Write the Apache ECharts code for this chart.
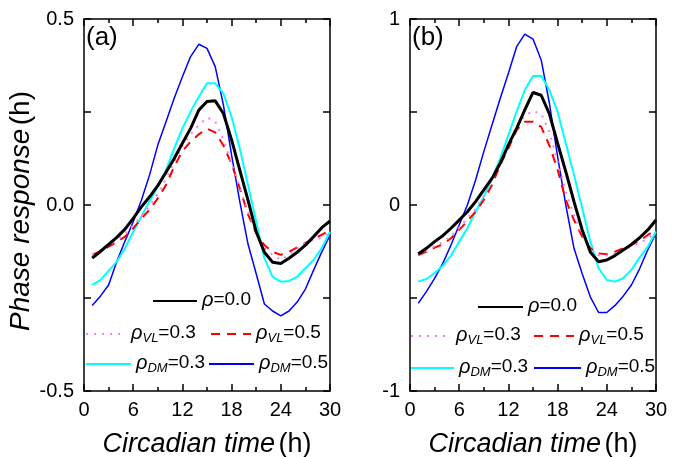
<!DOCTYPE html>
<html>
<head>
<meta charset="utf-8">
<script src="https://cdn.jsdelivr.net/npm/echarts@6/dist/echarts.min.js"></script>
<style>
  html, body { margin: 0; padding: 0; background: #fff; }
  #chart { width: 688px; height: 457px; }
</style>
</head>
<body>
<div id="chart"></div>
<script>
// circadian time (h), one value per hour
const hours = [1, 2, 3, 4, 5, 6, 7, 8, 9, 10, 11, 12, 13, 14, 15, 16, 17, 18, 19, 20, 21, 22, 23, 24, 25, 26, 27, 28, 29, 30]

// panel (a)
const a_p00 = [-0.143, -0.125, -0.106, -0.087, -0.065, -0.036, -0.005, 0.022, 0.052, 0.088, 0.125, 0.166, 0.206, 0.255, 0.278, 0.280, 0.246, 0.175, 0.094, 0.013, -0.072, -0.127, -0.154, -0.157, -0.143, -0.127, -0.108, -0.085, -0.061, -0.043]
const a_vl03 = [-0.134, -0.122, -0.108, -0.095, -0.078, -0.055, -0.030, -0.003, 0.030, 0.070, 0.115, 0.160, 0.190, 0.215, 0.235, 0.225, 0.175, 0.112, 0.045, -0.018, -0.076, -0.116, -0.134, -0.148, -0.134, -0.116, -0.102, -0.094, -0.088, -0.072]
const a_vl05 = [-0.134, -0.124, -0.112, -0.100, -0.085, -0.063, -0.036, -0.013, 0.018, 0.054, 0.103, 0.145, 0.170, 0.190, 0.205, 0.195, 0.160, 0.110, 0.045, -0.025, -0.076, -0.108, -0.126, -0.134, -0.126, -0.114, -0.102, -0.091, -0.080, -0.067]
const a_dm03 = [-0.215, -0.202, -0.177, -0.152, -0.116, -0.072, -0.031, 0.011, 0.049, 0.094, 0.152, 0.206, 0.251, 0.291, 0.327, 0.327, 0.300, 0.237, 0.152, 0.054, -0.045, -0.143, -0.193, -0.206, -0.204, -0.193, -0.170, -0.148, -0.116, -0.072]
const a_dm05 = [-0.270, -0.245, -0.215, -0.152, -0.097, -0.045, 0.013, 0.081, 0.161, 0.224, 0.287, 0.345, 0.399, 0.432, 0.421, 0.372, 0.269, 0.134, 0.009, -0.105, -0.185, -0.266, -0.285, -0.298, -0.285, -0.261, -0.226, -0.175, -0.126, -0.081]

// panel (b)
const b_p00 = [-0.263, -0.233, -0.197, -0.165, -0.125, -0.081, -0.036, 0.018, 0.081, 0.143, 0.224, 0.323, 0.412, 0.511, 0.605, 0.590, 0.490, 0.332, 0.179, 0.018, -0.134, -0.254, -0.305, -0.296, -0.272, -0.242, -0.212, -0.176, -0.134, -0.081]
const b_vl03 = [-0.265, -0.245, -0.222, -0.200, -0.168, -0.122, -0.072, -0.020, 0.050, 0.140, 0.240, 0.330, 0.420, 0.480, 0.505, 0.490, 0.394, 0.233, 0.072, -0.054, -0.161, -0.242, -0.269, -0.272, -0.260, -0.240, -0.225, -0.205, -0.180, -0.147]
const b_vl05 = [-0.269, -0.251, -0.229, -0.211, -0.179, -0.134, -0.086, -0.036, 0.027, 0.108, 0.215, 0.305, 0.403, 0.448, 0.448, 0.420, 0.320, 0.190, 0.027, -0.081, -0.170, -0.233, -0.260, -0.265, -0.251, -0.233, -0.215, -0.192, -0.161, -0.134]
const b_dm03 = [-0.412, -0.398, -0.367, -0.326, -0.272, -0.197, -0.125, -0.036, 0.045, 0.143, 0.251, 0.376, 0.502, 0.618, 0.694, 0.695, 0.618, 0.502, 0.332, 0.161, -0.018, -0.197, -0.340, -0.403, -0.412, -0.394, -0.349, -0.283, -0.224, -0.143]
const b_dm05 = [-0.529, -0.466, -0.394, -0.314, -0.215, -0.108, 0.000, 0.134, 0.287, 0.430, 0.573, 0.708, 0.851, 0.919, 0.892, 0.780, 0.547, 0.260, 0.000, -0.233, -0.370, -0.495, -0.578, -0.578, -0.540, -0.490, -0.430, -0.343, -0.241, -0.152]

const names = ['ρ=0.0', 'ρVL=0.3', 'ρVL=0.5', 'ρDM=0.3', 'ρDM=0.5']
const labels = {
  'ρ=0.0': '{i|ρ}{n|=0.0}',
  'ρVL=0.3': '{i|ρ}{s|VL}{n|=0.3}',
  'ρVL=0.5': '{i|ρ}{s|VL}{n|=0.5}',
  'ρDM=0.3': '{i|ρ}{s|DM}{n|=0.3}',
  'ρDM=0.5': '{i|ρ}{s|DM}{n|=0.5}'
}
const styles = [
  { color: '#000000', width: 3, type: 'solid' },
  { color: '#f080f0', width: 2, type: [2, 6] },
  { color: '#ff0000', width: 2, type: [9, 7] },
  { color: '#00ffff', width: 2, type: 'solid' },
  { color: '#0000ff', width: 1.5, type: 'solid' }
]

const FONT = 'Arial, "Liberation Sans", sans-serif'
const chart = echarts.init(document.getElementById('chart'))

function pairs(vals) {
  return hours.map((h, i) => [h, vals[i]])
}

const nameRich = {
  i: { fontSize: 27, fontStyle: 'italic', fontFamily: FONT, color: '#000' },
  n: { fontSize: 27, fontFamily: FONT, color: '#000' }
}

function xAxes(gi) {
  const base = {
    type: 'value', gridIndex: gi, min: 0, max: 30, interval: 6,
    axisLine: { onZero: false, lineStyle: { color: '#000', width: 1.5 } },
    axisTick: { inside: true, length: 7, lineStyle: { color: '#000', width: 1.5 } },
    minorTick: { show: true, splitNumber: 2, length: 4, lineStyle: { color: '#000', width: 1.5 } },
    splitLine: { show: false }
  }
  return [
    Object.assign({}, base, {
      position: 'bottom',
      axisLabel: { fontSize: 20, color: '#000', margin: 9, fontFamily: FONT },
      name: '{i|Circadian time} {n|(h)}',
      nameLocation: 'middle',
      nameGap: 40,
      nameTextStyle: { rich: nameRich }
    }),
    Object.assign({}, base, { position: 'top', axisLabel: { show: false } })
  ]
}

function yAxes(gi, lim, fmt, withName) {
  const base = {
    type: 'value', gridIndex: gi, min: -lim, max: lim, interval: lim,
    axisLine: { onZero: false, lineStyle: { color: '#000', width: 1.5 } },
    axisTick: { inside: true, length: 7, lineStyle: { color: '#000', width: 1.5 } },
    minorTick: { show: true, splitNumber: 2, length: 7, lineStyle: { color: '#000', width: 1.5 } },
    splitLine: { show: false }
  }
  const left = Object.assign({}, base, {
    position: 'left',
    axisLabel: { fontSize: 20, color: '#000', margin: 10, fontFamily: FONT, formatter: fmt }
  })
  if (withName) {
    Object.assign(left, {
      name: '{i|Phase response} {n|(h)}',
      nameLocation: 'middle',
      nameGap: 47,
      nameTextStyle: {
        rich: {
          i: { fontSize: 28, fontStyle: 'italic', fontFamily: FONT, color: '#000' },
          n: { fontSize: 28, fontFamily: FONT, color: '#000' }
        },
        padding: [0, 12, 0, 0]
      }
    })
  }
  return [left, Object.assign({}, base, { position: 'right', axisLabel: { show: false } })]
}

function makeSeries(gi, sets) {
  return sets.map((vals, k) => ({
    name: names[k],
    type: 'line',
    xAxisIndex: gi * 2,
    yAxisIndex: gi * 2,
    data: pairs(vals),
    symbol: 'none',
    z: 10 - k,
    lineStyle: styles[k],
    itemStyle: { color: styles[k].color }
  }))
}

const legendRich = {
  i: { fontSize: 20, fontStyle: 'italic', fontFamily: FONT, color: '#000', lineHeight: 22, verticalAlign: 'top' },
  n: { fontSize: 19, fontFamily: FONT, color: '#000', lineHeight: 22, verticalAlign: 'top' },
  s: { fontSize: 13, fontStyle: 'italic', fontFamily: FONT, color: '#000', lineHeight: 14, padding: [12, 0, 0, 0], verticalAlign: 'bottom' }
}

// [name index, icon left, icon width, row centre]
const legendA = [[0, 152, 44, 300], [1, 85, 40, 333], [2, 210, 40, 333], [3, 85, 45, 363], [4, 208, 45, 363]]
const legendB = [[0, 477, 45, 306], [1, 410, 40, 335], [2, 533, 40, 335], [3, 410, 43, 367], [4, 533, 47, 367]]

function makeLegends(list) {
  return list.map(([k, x, w, cy]) => ({
    data: [names[k]],
    left: x,
    top: cy - (k === 0 ? 10 : 13),
    padding: 0,
    itemWidth: w,
    itemHeight: 14,
    selectedMode: false,
    itemStyle: { opacity: 0 },
    formatter: n => labels[n],
    textStyle: { rich: legendRich }
  }))
}

chart.setOption({
  animation: false,
  backgroundColor: '#fff',
  title: [
    { text: '(a)', left: 86, top: 25, padding: 0, textStyle: { fontSize: 26, fontWeight: 'normal', fontFamily: FONT, color: '#000' } },
    { text: '(b)', left: 412, top: 25, padding: 0, textStyle: { fontSize: 26, fontWeight: 'normal', fontFamily: FONT, color: '#000' } }
  ],
  grid: [
    { left: 84, top: 19, width: 246, height: 372, outerBoundsMode: 'none' },
    { left: 410, top: 19, width: 246, height: 372, outerBoundsMode: 'none' }
  ],
  xAxis: xAxes(0).concat(xAxes(1)),
  yAxis: yAxes(0, 0.5, v => v.toFixed(1), true).concat(yAxes(1, 1, v => String(v), false)),
  legend: makeLegends(legendA).concat(makeLegends(legendB)),
  series: makeSeries(0, [a_p00, a_vl03, a_vl05, a_dm03, a_dm05])
    .concat(makeSeries(1, [b_p00, b_vl03, b_vl05, b_dm03, b_dm05]))
})
</script>
</body>
</html>
